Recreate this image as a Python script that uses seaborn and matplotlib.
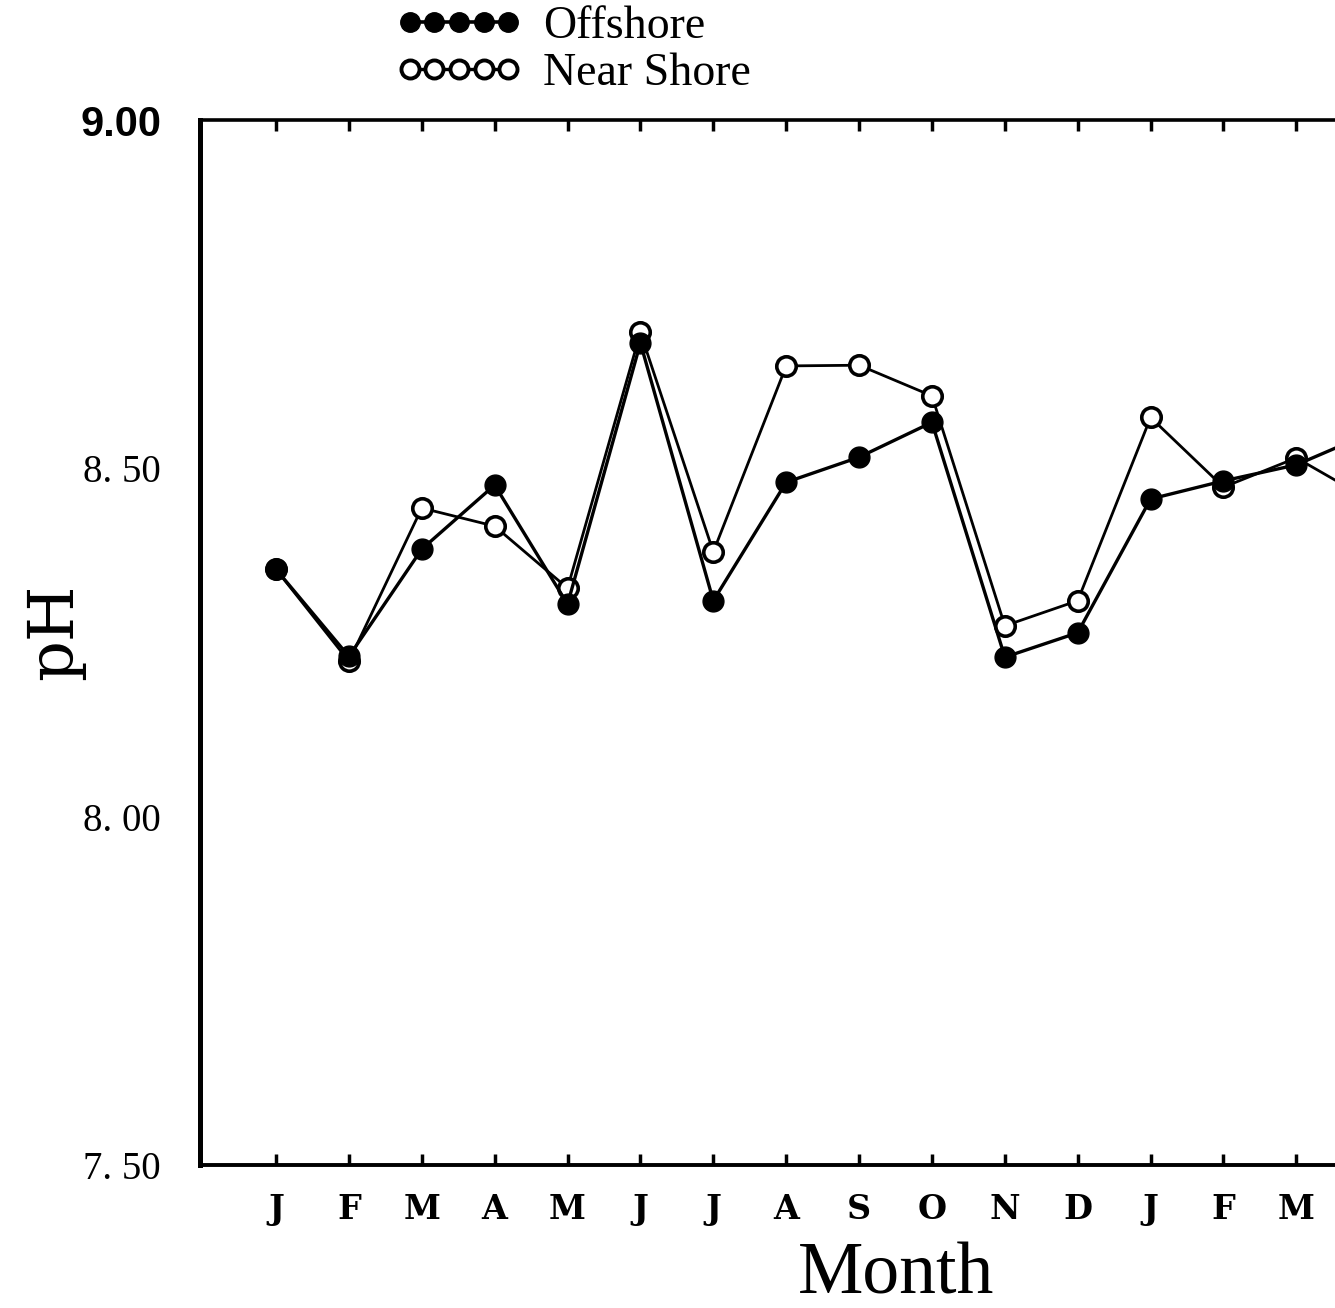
import matplotlib
matplotlib.use("Agg")
import matplotlib.pyplot as plt
import seaborn as sns
import pandas as pd
from matplotlib.lines import Line2D

months = ["J", "F", "M", "A", "M", "J", "J", "A", "S", "O", "N", "D", "J", "F", "M", "A"]
offshore = [8.355, 8.23, 8.384, 8.476, 8.305, 8.68, 8.31, 8.48, 8.516, 8.566,
            8.229, 8.264, 8.456, 8.482, 8.505, 8.55]
near_shore = [8.355, 8.223, 8.443, 8.417, 8.328, 8.695, 8.38, 8.647, 8.648, 8.604,
              8.274, 8.31, 8.573, 8.473, 8.515, 8.455]
ytick_vals = [7.50, 8.00, 8.50, 9.00]
ytick_labels = ["7. 50", "8. 00", "8. 50", "9.00"]

idx = list(range(len(months)))
df = pd.DataFrame({"idx": idx, "Offshore": offshore, "Near Shore": near_shore})

sns.set_style("white")
plt.rcParams["font.family"] = ["Liberation Serif", "DejaVu Serif"]
plt.rcParams["text.color"] = "black"
plt.rcParams["axes.labelcolor"] = "black"
plt.rcParams["xtick.color"] = "black"
plt.rcParams["ytick.color"] = "black"

W, H = 1335, 1308
fig = plt.figure(figsize=(W / 100, H / 100), dpi=100)
ax = fig.add_axes([200 / W, (H - 1165) / H, 1 - 200 / W, 1045 / H])

sns.lineplot(data=df, x="idx", y="Near Shore", ax=ax, color="black", lw=2.0,
             marker="o", markersize=14, markerfacecolor="white",
             markeredgecolor="black", markeredgewidth=2.6)
sns.lineplot(data=df, x="idx", y="Offshore", ax=ax, color="black", lw=2.4,
             marker="o", markersize=15, markerfacecolor="black",
             markeredgecolor="black", markeredgewidth=1)

ax.set_xticks(idx)
ax.set_xticklabels(months, fontfamily="DejaVu Serif", fontweight="bold", fontsize=24)
ax.set_yticks(ytick_vals)
ax.set_yticklabels(ytick_labels, fontsize=28)
for lab in ax.get_yticklabels():
    if lab.get_text() == "9.00":
        lab.set_fontfamily("Liberation Sans")
        lab.set_fontweight("bold")
        lab.set_fontsize(30)
ax.set_xlim(-1.043, 14.53)
ax.set_ylim(7.5, 9.0)

ax.tick_params(axis="x", which="both", direction="in", top=True, bottom=True,
               length=8, width=2.5, pad=20, colors="black")
ax.tick_params(axis="y", length=0, pad=28, colors="black")

for side in ["left", "top", "bottom"]:
    ax.spines[side].set_visible(True)
    ax.spines[side].set_color("black")
ax.spines["left"].set_linewidth(3.6)
ax.spines["top"].set_linewidth(2.6)
ax.spines["bottom"].set_linewidth(2.8)
ax.spines["right"].set_visible(False)

ax.set_ylabel("")
ax.set_xlabel("Month", fontsize=53, fontfamily="Liberation Serif", color="black")
ax.xaxis.label.set_va("baseline")
ax.xaxis.set_label_coords((896 - 200) / (W - 200), -(1293 - 1165) / 1045)

fig.text(55 / W, 1 - 632 / H, "pH", rotation=90, fontsize=46,
         fontfamily="DejaVu Serif", ha="center", va="center", color="black")

handles = [
    Line2D([0], [0], color="black", lw=2.6, marker="o", markersize=14,
           markerfacecolor="black", markeredgecolor="black"),
    Line2D([0], [0], color="black", lw=2.4, marker="o", markersize=13,
           markerfacecolor="white", markeredgecolor="black", markeredgewidth=2.8),
]
fig.legend(handles, ["Offshore", "Near Shore"], loc="upper left",
           bbox_to_anchor=(396 / W, 1 - 6 / H), frameon=False, numpoints=5,
           handlelength=2.75, handletextpad=0.45, labelspacing=0.08,
           fontsize=33, borderpad=0, borderaxespad=0)

fig.savefig("out.png", dpi=100, facecolor="white")
